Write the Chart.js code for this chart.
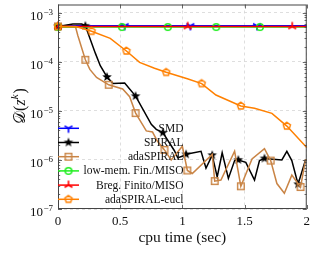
<!DOCTYPE html>
<html><head><meta charset="utf-8">
<script src="https://cdn.jsdelivr.net/npm/chart.js@4.4.0/dist/chart.umd.min.js"></script>
<style>html,body{margin:0;padding:0;background:#fff;overflow:hidden}#wrap{width:315px;height:253px;position:relative}</style>
</head><body><div id="wrap"><canvas id="c"></canvas></div>
<script>
// ---------------- data ----------------
const seriesNames = ['SMD', 'SPIRAL', 'adaSPIRAL', 'low-mem. Fin./MISO', 'Breg. Finito/MISO', 'adaSPIRAL-eucl'];

const smdX = [0, 0.536, 1.064, 1.60, 2.0];
const smdY = [5.4e-4, 5.4e-4, 5.4e-4, 5.4e-4, 5.4e-4];
const smdMarks = [0, 0.536, 1.064, 1.60];

const spiralX = [0, 0.12, 0.19, 0.22, 0.30, 0.34, 0.394, 0.443, 0.536, 0.624, 0.75, 0.79, 0.843, 0.936, 0.963, 1.003, 1.03, 1.15, 1.19, 1.24, 1.28, 1.32, 1.37, 1.42, 1.45, 1.51, 1.58, 1.62, 1.66, 1.80, 1.84, 1.88, 1.93, 1.99, 2.0];
const spiralY = [5.25e-4, 5.9e-4, 5.9e-4, 5.4e-4, 1.5e-4, 8.3e-5, 4.9e-5, 3.6e-5, 3.7e-5, 2.0e-5, 5.3e-6, 4.2e-6, 3.6e-6, 1.54e-6, 1.1e-6, 1.2e-6, 1.3e-6, 1.5e-6, 6.8e-7, 1.25e-6, 4.5e-7, 1.4e-6, 4.2e-7, 9.7e-7, 1.0e-6, 8.9e-7, 3.9e-7, 9.7e-7, 1.07e-6, 1.0e-6, 1.5e-6, 9.7e-7, 3.2e-7, 1.0e-6, 1.0e-6];
const spiralMarks = [0, 0.22, 0.394, 0.624, 0.843, 1.03, 1.24, 1.45, 1.66, 1.93];

const adaX = [0, 0.14, 0.16, 0.22, 0.256, 0.31, 0.408, 0.52, 0.576, 0.624, 0.71, 0.76, 0.80, 0.856, 0.91, 1.0, 1.04, 1.08, 1.24, 1.26, 1.31, 1.42, 1.47, 1.56, 1.66, 1.71, 1.76, 1.82, 1.88, 1.95, 1.99, 2.0];
const adaY = [5.25e-4, 5.25e-4, 3.4e-4, 1.1e-4, 7e-5, 4.8e-5, 3.4e-5, 2.8e-5, 1.94e-5, 9e-6, 3.9e-6, 3.7e-6, 2.4e-6, 1.6e-6, 1.0e-6, 1.9e-6, 6.1e-7, 5.3e-7, 1.3e-6, 3.7e-7, 3.9e-7, 1.5e-6, 2.9e-7, 1.05e-6, 1.7e-6, 9.7e-7, 3.3e-7, 2.1e-7, 4.9e-7, 2.8e-7, 1.0e-6, 1.0e-6];
const adaMarks = [0, 0.22, 0.408, 0.624, 0.856, 1.04, 1.26, 1.47, 1.71, 1.95];

const lowmemX = [0, 0.515, 0.883, 1.272, 1.624, 2.0];
const lowmemY = [5.1e-4, 5.1e-4, 5.1e-4, 5.1e-4, 5.1e-4, 5.1e-4];
const lowmemMarks = [0, 0.515, 0.883, 1.272, 1.624];

const bregX = [0, 1.043, 1.883, 2.0];
const bregY = [5.25e-4, 5.25e-4, 5.25e-4, 5.25e-4];
const bregMarks = [0, 1.043, 1.883];

const euclX = [0, 0.15, 0.27, 0.42, 0.55, 0.656, 0.776, 0.87, 1.04, 1.155, 1.27, 1.47, 1.58, 1.72, 1.84, 2.0];
const euclY = [5.25e-4, 5.15e-4, 4.2e-4, 3.0e-4, 1.66e-4, 9.7e-5, 7.4e-5, 6.1e-5, 4.5e-5, 3.6e-5, 2.1e-5, 1.26e-5, 1.13e-5, 8.9e-6, 4.9e-6, 1.8e-6];
const euclMarks = [0, 0.27, 0.55, 0.87, 1.155, 1.47, 1.84];

const xTicks = [0, 0.5, 1, 1.5, 2];
const xTickLabels = ['0', '0.5', '1', '1.5', '2'];
const yTickExps = [-7, -6, -5, -4, -3];
const xTitle = 'cpu time (sec)';

// ---------------- styles ----------------
const colors = ['#0000ff', '#000000', '#c98445', '#1fee1f', '#ff0000', '#ff8000'];
const SERIF = '"Liberation Serif", "DejaVu Serif", serif';

function mk(size, fn) {
  const c = document.createElement('canvas');
  c.width = size; c.height = size;
  const g = c.getContext('2d');
  g.translate(size / 2, size / 2);
  fn(g);
  return c;
}
const markers = [
  mk(12, g => { // tri_down
    g.strokeStyle = colors[0]; g.lineWidth = 1.6; g.beginPath();
    const r = 4.5;
    g.moveTo(0, 0); g.lineTo(0, r);
    g.moveTo(0, 0); g.lineTo(-r * 0.87, -r * 0.5);
    g.moveTo(0, 0); g.lineTo(r * 0.87, -r * 0.5);
    g.stroke();
  }),
  mk(12, g => { // filled star
    g.fillStyle = colors[1]; g.beginPath();
    const R = 5, r = 2.1;
    for (let i = 0; i < 10; i++) {
      const a = -Math.PI / 2 + i * Math.PI / 5;
      const rr = i % 2 ? r : R;
      g.lineTo(rr * Math.cos(a), rr * Math.sin(a));
    }
    g.closePath(); g.fill();
  }),
  mk(12, g => { // open square
    g.strokeStyle = colors[2]; g.lineWidth = 1.4;
    g.strokeRect(-3.3, -3.3, 6.6, 6.6);
  }),
  mk(12, g => { // open circle
    g.strokeStyle = colors[3]; g.lineWidth = 1.5;
    g.beginPath(); g.arc(0, 0, 3.3, 0, Math.PI * 2); g.stroke();
  }),
  mk(12, g => { // tri_up
    g.strokeStyle = colors[4]; g.lineWidth = 1.6; g.beginPath();
    const r = 4.5;
    g.moveTo(0, 0); g.lineTo(0, -r);
    g.moveTo(0, 0); g.lineTo(-r * 0.87, r * 0.5);
    g.moveTo(0, 0); g.lineTo(r * 0.87, r * 0.5);
    g.stroke();
  }),
  mk(12, g => { // open pentagon
    g.strokeStyle = colors[5]; g.lineWidth = 1.4; g.beginPath();
    const R = 3.8;
    for (let i = 0; i < 5; i++) {
      const a = -Math.PI / 2 + i * 2 * Math.PI / 5;
      g.lineTo(R * Math.cos(a), R * Math.sin(a));
    }
    g.closePath(); g.stroke();
  })
];

const seriesX = [smdX, spiralX, adaX, lowmemX, bregX, euclX];
const seriesY = [smdY, spiralY, adaY, lowmemY, bregY, euclY];
const seriesMarks = [smdMarks, spiralMarks, adaMarks, lowmemMarks, bregMarks, euclMarks];

const datasets = seriesNames.map((name, i) => ({
  label: name,
  data: seriesX[i].map((x, j) => ({ x: x, y: seriesY[i][j] })),
  borderColor: colors[i],
  backgroundColor: colors[i],
  borderWidth: 1.5,
  tension: 0,
  fill: false,
  clip: false,
  order: 10 - i,
  pointStyle: markers[i],
  pointRadius: ctx => (ctx.raw && seriesMarks[i].includes(ctx.raw.x)) ? 3 : 0,
  pointHoverRadius: 0
}));

// ---------------- plugin for axes decorations ----------------
function drawSup(ctx, x, y, base, sup, fs, ss, align, italicSup) {
  // draws base + superscript, returns width
  ctx.font = fs + 'px ' + SERIF;
  const wb = ctx.measureText(base).width;
  ctx.font = (italicSup ? 'italic ' : '') + ss + 'px ' + SERIF;
  const ws = ctx.measureText(sup).width;
  let x0 = align === 'right' ? x - wb - ws - 0.5 : x;
  ctx.textAlign = 'left'; ctx.textBaseline = 'alphabetic';
  ctx.font = fs + 'px ' + SERIF;
  ctx.fillText(base, x0, y);
  ctx.font = (italicSup ? 'italic ' : '') + ss + 'px ' + SERIF;
  ctx.fillText(sup, x0 + wb + 0.5, y - fs * 0.38);
}

const deco = {
  id: 'deco',
  afterDatasetsDraw(chart) {
    const ctx = chart.ctx, a = chart.chartArea;
    const xs = chart.scales.x, ys = chart.scales.y;
    ctx.save();
    // ticks
    ctx.strokeStyle = '#444'; ctx.lineWidth = 0.8;
    ctx.beginPath();
    for (const e of yTickExps) {
      const p = Math.round(ys.getPixelForValue(Math.pow(10, e))) + 0.5;
      ctx.moveTo(a.left, p); ctx.lineTo(a.left + 4, p);
      ctx.moveTo(a.right, p); ctx.lineTo(a.right - 4, p);
      for (let m = 2; m <= 9; m++) {
        const v = m * Math.pow(10, e);
        if (v > ys.max) continue;
        const q = Math.round(ys.getPixelForValue(v)) + 0.5;
        ctx.moveTo(a.left, q); ctx.lineTo(a.left + 2.2, q);
        ctx.moveTo(a.right, q); ctx.lineTo(a.right - 2.2, q);
      }
    }
    for (const t of xTicks) {
      const p = Math.round(xs.getPixelForValue(t)) + 0.5;
      ctx.moveTo(p, a.bottom); ctx.lineTo(p, a.bottom - 4);
      ctx.moveTo(p, a.top); ctx.lineTo(p, a.top + 4);
    }
    ctx.stroke();
    // frame
    ctx.strokeStyle = '#444'; ctx.lineWidth = 1;
    ctx.strokeRect(a.left + 0.5, a.top + 0.5, a.right - a.left - 1, a.bottom - a.top - 1);

    // legend
    const rowY0 = 128.3, step = 14.2;
    chart.data.datasets.forEach((ds, i) => {
      const y = rowY0 + i * step;
      ctx.strokeStyle = ds.borderColor; ctx.lineWidth = 1.5;
      ctx.beginPath(); ctx.moveTo(a.left, y); ctx.lineTo(a.left + 21, y); ctx.stroke();
      const m = markers[i];
      ctx.drawImage(m, a.left + 10.5 - m.width / 2, y - m.height / 2);
      ctx.fillStyle = '#111';
      ctx.font = '11.5px ' + SERIF;
      ctx.textAlign = 'right'; ctx.textBaseline = 'middle';
      ctx.fillText(ds.label, a.left + 125.5, y + 0.5);
    });

    // y tick labels
    ctx.fillStyle = '#111';
    for (const e of yTickExps) {
      const p = ys.getPixelForValue(Math.pow(10, e));
      drawSup(ctx, a.left - 5, p + 7.4, '10', '\u2212' + Math.abs(e), 13, 9, 'right', false);
    }

    // y title: D(z^k)
    ctx.save();
    ctx.translate(24.5, 106);
    ctx.rotate(-Math.PI / 2);
    const parts = [
      { t: '\uD835\uDC9F', f: '16px ' + SERIF, dy: 0 },
      { t: '(', f: '16px ' + SERIF, dy: 0 },
      { t: 'z', f: 'italic 16px ' + SERIF, dy: 0 },
      { t: 'k', f: 'italic 11px ' + SERIF, dy: -6.5 },
      { t: ')', f: '16px ' + SERIF, dy: 0 }
    ];
    let tw = 0;
    parts.forEach(p => { ctx.font = p.f; p.w = ctx.measureText(p.t).width + (p.t === 'k' ? 1 : 0); tw += p.w; });
    let cx = -tw / 2;
    ctx.textAlign = 'left'; ctx.textBaseline = 'alphabetic';
    parts.forEach(p => { ctx.font = p.f; ctx.fillText(p.t, cx, p.dy); cx += p.w; });
    ctx.restore();

    ctx.restore();
  }
};

new Chart(document.getElementById('c'), {
  type: 'line',
  data: { datasets: datasets },
  options: {
    responsive: true,
    maintainAspectRatio: false,
    animation: false,
    events: [],
    layout: { padding: { left: 0, right: 7, top: 1, bottom: 0 } },
    plugins: { legend: { display: false }, tooltip: { enabled: false } },
    scales: {
      x: {
        type: 'linear', min: 0, max: 2,
        afterBuildTicks: s => { s.ticks = xTicks.map(v => ({ value: v })); },
        afterFit: s => { s.height = 44; },
        grid: { color: '#d6d6d6', lineWidth: 0.8, drawTicks: false },
        border: { display: false, dash: [3, 3] },
        ticks: {
          padding: 5, color: '#111', maxRotation: 0, autoSkip: false,
          font: { family: SERIF, size: 13 },
          callback: (v) => { const k = xTicks.indexOf(v); return k >= 0 ? xTickLabels[k] : ''; }
        },
        title: { display: true, text: xTitle, color: '#111', font: { family: SERIF, size: 15.5 }, padding: { top: 0, bottom: 6 } }
      },
      y: {
        type: 'logarithmic', min: 1e-7, max: 1.47e-3,
        afterBuildTicks: s => { s.ticks = yTickExps.map(e => ({ value: Math.pow(10, e) })); },
        afterFit: s => { s.width = 58; },
        grid: { color: '#d6d6d6', lineWidth: 0.8, drawTicks: false },
        border: { display: false, dash: [3, 3] },
        ticks: { display: false }
      }
    }
  },
  plugins: [deco]
});
</script>
</body></html>
